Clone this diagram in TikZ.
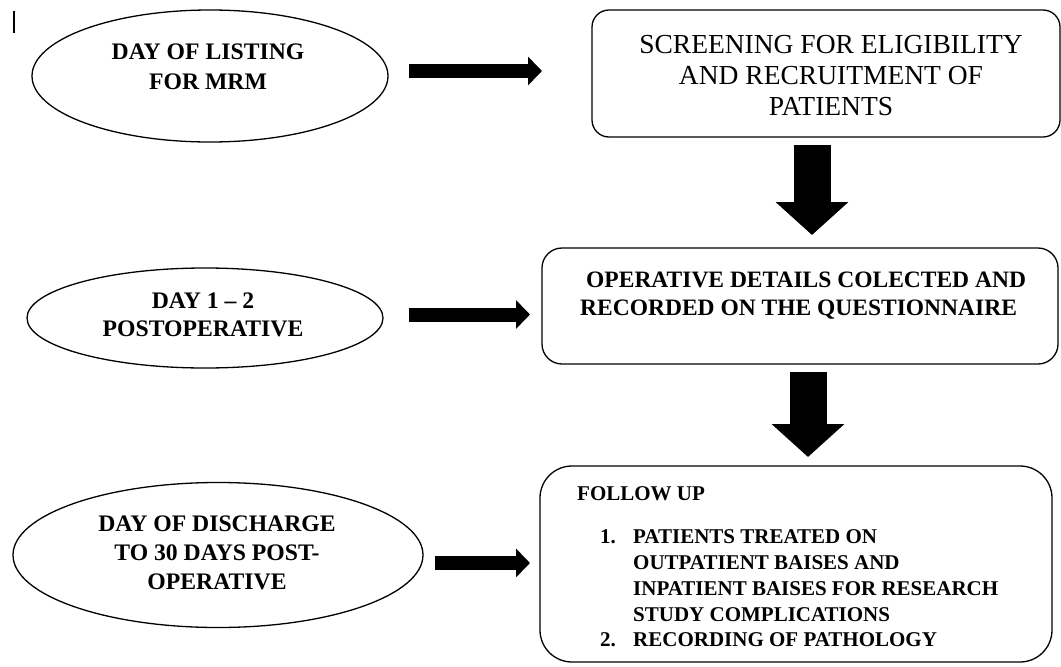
\documentclass[tikz,border=0pt]{standalone}
\usepackage{fontspec}
\setmainfont{Liberation Serif}
\usetikzlibrary{shapes.geometric,arrows.meta}
\begin{document}
\begin{tikzpicture}[x=1pt,y=-1pt,
  oval/.style={draw, ellipse, line width=1.3pt, inner sep=0pt},
  rbox/.style={draw, rectangle, line width=1.3pt, inner sep=0pt},
  ovaltext/.style={align=center, inner sep=0pt},
  hfat/.style={line width=14pt, -{Triangle[width=28pt,length=14pt]}},
  vfat/.style={line width=37pt, -{Triangle[width=71pt,length=33pt]}},
]
\useasboundingbox (0,0) rectangle (1061,667);

% cursor mark
\coordinate (c1) at (14,11);
\coordinate (c2) at (14,33);
\draw[line width=1.3pt] (c1) -- (c2);

% ellipses
\node[oval, minimum width=356pt, minimum height=132pt] (e1) at (210,76) {};
\node[ovaltext, font=\fontsize{23.7}{30}\selectfont\bfseries] (t1) at (208,67) {DAY OF LISTING\\FOR MRM};

\node[oval, minimum width=356pt, minimum height=100pt] (e2) at (205,318) {};
\node[ovaltext, font=\fontsize{23.7}{28}\selectfont\bfseries] (t2) at (203,315) {DAY 1 – 2\\POSTOPERATIVE};

\node[oval, minimum width=410pt, minimum height=145pt] (e3) at (218,555) {};
\node[ovaltext, font=\fontsize{23.7}{29}\selectfont\bfseries] (t3) at (217,553) {DAY OF DISCHARGE\\TO 30 DAYS POST-\\OPERATIVE};

% boxes
\node[rbox, rounded corners=17pt, minimum width=468pt, minimum height=127pt] (b1) at (826,73.5) {};
\node[ovaltext, font=\fontsize{27.5}{31}\selectfont] (bt1) at (831,75.5) {SCREENING FOR ELIGIBILITY\\AND RECRUITMENT OF\\PATIENTS};

\node[rbox, rounded corners=20pt, minimum width=516pt, minimum height=116pt] (b2) at (800,306) {};
\node[align=left, inner sep=0pt, anchor=north west, font=\fontsize{23.5}{28}\selectfont\bfseries] (bt2) at (580,272)
  {\hspace*{6pt}OPERATIVE DETAILS COLECTED AND\\RECORDED ON THE QUESTIONNAIRE};

\node[rbox, rounded corners=32pt, minimum width=512pt, minimum height=196pt] (b3) at (796,564) {};
\node[align=left, inner sep=0pt, anchor=north west, font=\fontsize{21}{25.75}\selectfont\bfseries] (bt3) at (577,486)
  {FOLLOW UP\\[18pt]
   \hspace*{23pt}\makebox[33pt][l]{1.}PATIENTS TREATED ON\\
   \hspace*{56pt}OUTPATIENT BAISES AND\\
   \hspace*{56pt}INPATIENT BAISES FOR RESEARCH\\
   \hspace*{56pt}STUDY COMPLICATIONS\\
   \hspace*{23pt}\makebox[33pt][l]{2.}RECORDING OF PATHOLOGY};

% horizontal arrows
\coordinate (h1s) at (409,71);
\coordinate (h1e) at (542,71);
\draw[hfat] (h1s) -- (h1e);
\coordinate (h2s) at (409,314.5);
\coordinate (h2e) at (530,314.5);
\draw[hfat] (h2s) -- (h2e);
\coordinate (h3s) at (435,563);
\coordinate (h3e) at (530,563);
\draw[hfat] (h3s) -- (h3e);

% vertical arrows
\coordinate (v1s) at (812,145);
\coordinate (v1e) at (812,235);
\draw[vfat] (v1s) -- (v1e);
\coordinate (v2s) at (808,372);
\coordinate (v2e) at (808,457);
\draw[vfat] (v2s) -- (v2e);
\end{tikzpicture}
\end{document}
